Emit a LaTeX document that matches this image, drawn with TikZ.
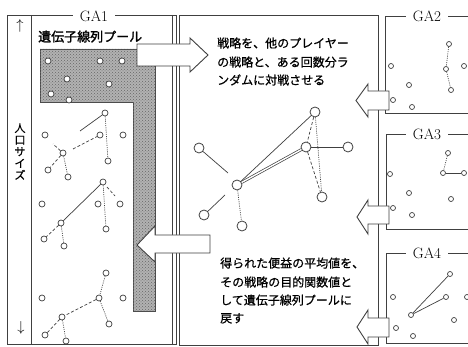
\documentclass[tikz,border=0pt]{standalone}
\usepackage{fontspec}
\newfontfamily\jp{Noto Sans CJK JP}[FakeBold=0.6]
\newfontfamily\jpb{Noto Sans CJK JP}[FakeBold=1.5]
\usetikzlibrary{patterns,calc}
\begin{document}
\begin{tikzpicture}[x=1pt,y=-1pt,line join=miter,
 frame/.style={draw=black!75,line width=0.9pt},
 gc/.style={circle,draw=black!75,fill=white,minimum size=6pt,inner sep=0pt,line width=0.7pt},
 mc/.style={circle,draw=black!75,fill=white,minimum size=10pt,inner sep=0pt,line width=0.8pt},
 sl/.style={draw=black!75,line width=0.7pt},
 dl/.style={sl,dash pattern=on 3pt off 2pt},
 tl/.style={sl,dash pattern=on 1pt off 1.2pt},
 blk/.style={draw=black!75,fill=white,line width=0.9pt},
 galab/.style={fill=white,font=\fontsize{15}{15}\selectfont,inner xsep=7pt,inner ysep=1pt},
 jline/.style={font=\jp\fontsize{12}{12}\selectfont,anchor=base west,inner sep=0pt}]
\useasboundingbox (0,0) rectangle (468,347);
\fill[white] (0,0) rectangle (468,347);
% frames
\draw[frame] (7,15) rectangle (176,344);
\draw[frame] (31,15) -- (31,344);
\draw[frame] (172,15) -- (172,344);
\draw[frame] (179,15) rectangle (378,345);
\draw[frame] (470,16) -- (385,16) -- (385,113) -- (470,113);
\draw[frame] (470,134) -- (386,134) -- (386,229) -- (470,229);
\draw[frame] (470,253) -- (386,253) -- (386,343) -- (470,343);
% pool
\path[draw=black!70,line width=0.7pt,fill=black!30,postaction={pattern=crosshatch dots,pattern color=black!60}]
 (40,49) -- (155,49) -- (155,311) -- (133,311) -- (133,102) -- (40,102) -- cycle;
% block arrows
\draw[blk] (137,44) -- (190,44) -- (190,38) -- (208,55) -- (190,72) -- (190,66) -- (137,66) -- cycle;
\draw[blk] (210,235) -- (155,235) -- (155,226) -- (137,245) -- (155,262) -- (155,253) -- (210,253) -- cycle;
\draw[blk] (389,91) -- (368,91) -- (368,84) -- (356,100.5) -- (368,117) -- (368,110) -- (389,110) -- cycle;
\draw[blk] (389,206) -- (368,206) -- (368,200) -- (357,217) -- (368,234) -- (368,224) -- (389,224) -- cycle;
\draw[blk] (389,318) -- (368,318) -- (368,310) -- (357,327) -- (368,344) -- (368,337) -- (389,337) -- cycle;
% labels
\node[galab] (ga1) at (94,16) {GA1};
\node[galab] (ga2) at (427,16) {GA2};
\node[galab] (ga3) at (427,134) {GA3};
\node[galab] (ga4) at (427,253) {GA4};
\node[font=\jpb\fontsize{13}{13}\selectfont,anchor=base west,inner sep=0pt] (pool) at (38,41.5) {遺伝子線列プール};
\node[font=\jp\fontsize{11}{11.75}\selectfont,align=center,inner sep=0pt] (pop) at (20,151.5) {人\\口\\サ\\イ\\ズ};
\node[font=\fontsize{14}{14}\selectfont,inner sep=0pt] (up) at (20,26) {$\uparrow$};
\node[font=\fontsize{14}{14}\selectfont,inner sep=0pt] (down) at (21,328) {$\downarrow$};
\node[jline] (t1) at (217,47.6) {戦略を、他のプレイヤー};
\node[jline] (t2) at (217,66.6) {の戦略と、ある回数分ラ};
\node[jline] (t3) at (217,84.6) {ンダムに対戦させる};
\node[jline] (b1t) at (220,267.6) {得られた便益の平均値を、};
\node[jline] (b2t) at (220,286.6) {その戦略の目的関数値と};
\node[jline] (b3t) at (220,304.6) {して遺伝子線列プールに};
\node[jline] (b4t) at (220,322.6) {戻す};
% pool circles
\foreach \n/\x/\y in {p1/48/61,p2/100/61,p3/122/61,p4/67/79,p5/109/84,p6/51/94,p7/69/100}
  \node[gc] (\n) at (\x,\y) {};
% graph A
\foreach \n/\x/\y in {a1/105/113,a2/45/135,a3/100/135,a4/123/135,a5/63/153,a6/108/161,a7/48/170,a8/68/177}
  \node[gc] (\n) at (\x,\y) {};
\coordinate (ae1) at (80,131);
\coordinate (ae2) at (73,149);
\coordinate (ae3) at (53,144);
\draw[sl] (a1) -- (ae1);
\draw[dl] (ae2) -- (a3);
\draw[dl] (a5) -- (ae3);
\draw[dl] (a5) -- (a7);
\draw[tl] (a5) -- (a8);
\draw[tl] (a1) -- (a6);
% graph B
\foreach \n/\x/\y in {b1/103/182,b2/42/204,b3/98/204,b4/120/204,b5/61/223,b6/106/229,b7/44/239,b8/64/246}
  \node[gc] (\n) at (\x,\y) {};
\coordinate (be1) at (107,187);
\coordinate (be2) at (115,196);
\draw[sl] (b1) -- (b5);
\draw[dl] (be1) -- (be2);
\draw[tl] (b1) -- (b6);
\draw[dl] (b5) -- (b7);
\draw[tl] (b5) -- (b8);
% graph C
\foreach \n/\x/\y in {c1/106/273,c2/42/298,c3/99/298,c4/123/298,c5/62/317,c6/109/324,c7/45/335,c8/66/341}
  \node[gc] (\n) at (\x,\y) {};
\draw[tl] (c1) -- (c3);
\draw[dl] (c3) -- (c5);
\draw[tl] (c3) -- (c6);
\draw[dl] (c5) -- (c7);
\draw[tl] (c5) -- (c8);
% middle graph
\foreach \n/\x/\y in {m1/315/112,m2/199/148,m3/306/147,m4/348/147,m5/237/185,m6/322/197,m7/204/215,m8/242/226}
  \node[mc] (\n) at (\x,\y) {};
\coordinate (me1) at (228,173);
\coordinate (me2) at (225,195);
\draw[sl] (m1) -- (m5);
\draw[sl,double,double distance=1.4pt] (m3) -- (m5);
\draw[sl] (m3) -- (m4);
\draw[dl] (m1) -- (m3);
\draw[tl] (m1) -- (m6);
\draw[dl] (m3) -- (m6);
\draw[sl] (m2) -- (me1);
\draw[sl] (me2) -- (m7);
\draw[tl] (m5) -- (m8);
% GA2
\foreach \n/\x/\y in {g2a/449/44,g2b/391/66,g2c/446/69,g2d/464/66,g2e/451/90,g2f/409/85,g2g/393/100,g2h/412/107}
  \node[gc,minimum size=5pt] (\n) at (\x,\y) {};
\draw[tl] (g2a) -- (g2c);
\draw[tl] (g2c) -- (g2e);
% GA3
\foreach \n/\x/\y in {g3a/448/153,g3b/443/173,g3c/464/173,g3d/390/174,g3e/409/193,g3f/451/199,g3g/393/208,g3h/412/215}
  \node[gc,minimum size=5pt] (\n) at (\x,\y) {};
\draw[tl] (g3a) -- (g3b);
\draw[sl] (g3b) -- (g3c);
% GA4
\foreach \n/\x/\y in {g4a/450/274,g4b/446/297,g4c/467/297,g4d/393/297,g4e/411/315,g4f/454/320,g4g/396/328,g4h/413/336}
  \node[gc,minimum size=5pt] (\n) at (\x,\y) {};
\draw[sl] (g4e) -- (g4a);
\draw[sl] (g4e) -- (g4b);
\end{tikzpicture}
\end{document}
